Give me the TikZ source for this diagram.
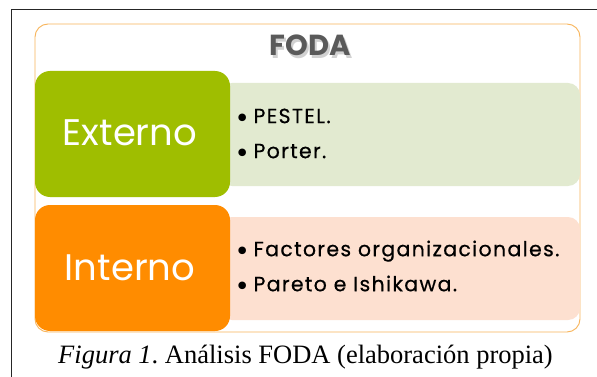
\documentclass[tikz,border=0pt]{standalone}
\usepackage{fontspec}
\setmainfont{Liberation Serif}
\newfontfamily\gothic{Poppins}
\newfontfamily\gothiclist[LetterSpace=6.5,FakeBold=0.5]{Poppins}
\newfontfamily\dejavu{DejaVu Sans}
\definecolor{frameor}{HTML}{F8B45A}
\definecolor{extgreen}{HTML}{9FBE00}
\definecolor{extlight}{HTML}{E2EAD0}
\definecolor{intorange}{HTML}{FF8C00}
\definecolor{intlight}{HTML}{FDE0D0}
\definecolor{titlegray}{HTML}{5A5A5A}
\newcommand{\bigbul}{\makebox[19pt][l]{\raisebox{-4.2pt}{\dejavu\fontsize{26}{26}\selectfont•}}}
\newcommand{\shadowed}[1]{\makebox[0pt][l]{\hspace{1.5pt}\raisebox{-2.5pt}{\textcolor{black!18}{#1}}}#1}
\tikzset{
  px/.style={x=1pt,y=-1pt},
  bigbox/.style={rounded corners=15pt,draw=none},
  lightbox/.style={rounded corners=12pt,draw=none},
  bigtext/.style={font=\gothic\fontsize{37}{40}\selectfont,text=white},
  listtext/.style={font=\gothiclist\fontsize{20.5}{35}\selectfont,text=black,align=left,anchor=west},
  titletext/.style={font=\gothic\bfseries\fontsize{29}{32}\selectfont},
}
\begin{document}
\begin{tikzpicture}[px]
\useasboundingbox (0,0) rectangle (597,377);
\fill[white] (0,0) rectangle (597,377);
% outer frame lines
\draw[line width=1pt,black!85] (11,10) -- (597,10);
\draw[line width=1pt,black!85] (11,10) -- (11,377);
% orange container
\draw[frameor,line width=0.9pt,rounded corners=13pt] (35,24) rectangle (580,332);
% title
\node (title) [titletext,text=titlegray] at (310.5,47) {\shadowed{FODA}};
% external
\fill[extlight,lightbox] (220,83) rectangle (580,186);
\fill[extgreen,bigbox] (35,71) rectangle (230,197);
\node (ext) [bigtext] at (130,133) {Externo};
\node (extlist) [listtext] at (231,135.5) {\bigbul PESTEL.\\\bigbul Porter.};
% internal
\fill[intlight,lightbox] (220,217) rectangle (580,320);
\fill[intorange,bigbox] (35,205) rectangle (230,331);
\node (int) [bigtext] at (130,268) {Interno};
\node (intlist) [listtext] at (231,268) {\bigbul Factores organizacionales.\\\bigbul Pareto e Ishikawa.};
% caption
\node (cap) [font=\fontsize{26.5}{28}\selectfont] at (305.5,357) {\frenchspacing\textit{Figura 1}. Análisis FODA (elaboración propia)};
\end{tikzpicture}
\end{document}
